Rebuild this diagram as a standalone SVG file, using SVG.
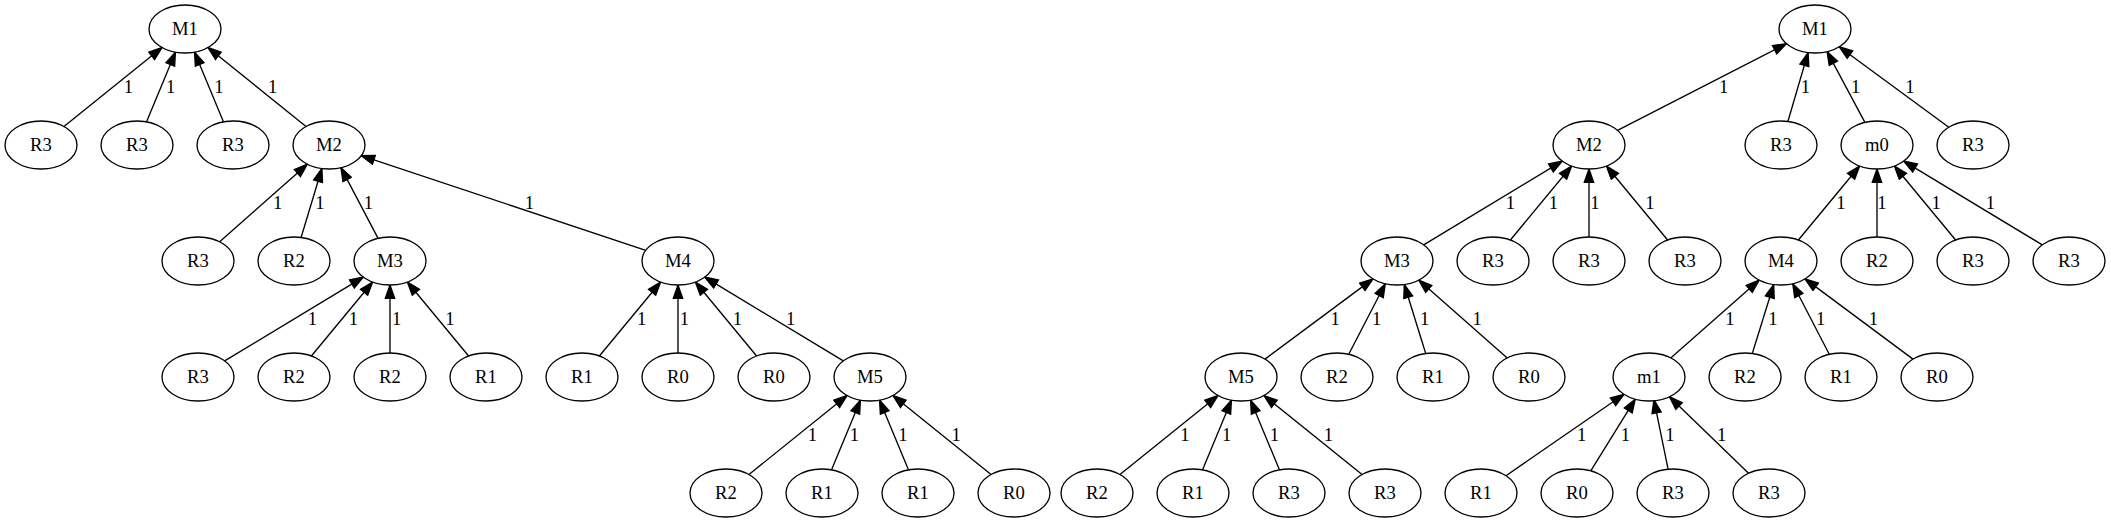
<svg xmlns="http://www.w3.org/2000/svg" width="2111" height="523" viewBox="0 0 2111 523">
<defs>
<style>
.n ellipse{fill:#fff;stroke:#000;stroke-width:1.33}
.n text,.lbl{font-family:"Liberation Serif","Times New Roman",serif;font-size:18.67px;fill:#000}
.n text{text-anchor:middle}
.lbl{text-anchor:middle}
.e{stroke:#000;stroke-width:1.33;fill:none;marker-end:url(#ah)}
</style>
<marker id="ah" markerUnits="userSpaceOnUse" viewBox="-1 -1 15.33 11.33" refX="13.33" refY="4.67" markerWidth="15.33" markerHeight="11.33" orient="auto">
<path d="M0,0 L13.33,4.67 L0,9.33 Z" fill="#000" stroke="#000" stroke-width="1.33"/>
</marker>
</defs>
<rect width="2111" height="523" fill="#fff"/>
<g id="connectors">
<line class="e" x1="63.95" y1="126.51" x2="162.05" y2="47.49"/>
<line class="e" x1="146.57" y1="121.86" x2="175.43" y2="52.14"/>
<line class="e" x1="223.43" y1="121.86" x2="194.57" y2="52.14"/>
<line class="e" x1="306.05" y1="126.51" x2="207.95" y2="47.49"/>
<line class="e" x1="219.65" y1="241.83" x2="307.35" y2="164.17"/>
<line class="e" x1="301.10" y1="237.47" x2="321.90" y2="168.53"/>
<line class="e" x1="378.09" y1="238.35" x2="340.91" y2="167.65"/>
<line class="e" x1="645.78" y1="250.29" x2="361.22" y2="155.71"/>
<line class="e" x1="224.68" y1="360.88" x2="363.32" y2="277.12"/>
<line class="e" x1="311.39" y1="355.99" x2="372.61" y2="282.01"/>
<line class="e" x1="390" y1="353" x2="390" y2="285"/>
<line class="e" x1="468.61" y1="355.99" x2="407.39" y2="282.01"/>
<line class="e" x1="599.39" y1="355.99" x2="660.61" y2="282.01"/>
<line class="e" x1="678" y1="353" x2="678" y2="285"/>
<line class="e" x1="756.61" y1="355.99" x2="695.39" y2="282.01"/>
<line class="e" x1="843.32" y1="360.88" x2="704.68" y2="277.12"/>
<line class="e" x1="748.95" y1="474.51" x2="847.05" y2="395.49"/>
<line class="e" x1="831.57" y1="469.86" x2="860.43" y2="400.14"/>
<line class="e" x1="908.43" y1="469.86" x2="879.57" y2="400.14"/>
<line class="e" x1="991.05" y1="474.51" x2="892.95" y2="395.49"/>
<line class="e" x1="1617.53" y1="130.36" x2="1786.47" y2="43.64"/>
<line class="e" x1="1787.90" y1="121.44" x2="1808.10" y2="52.56"/>
<line class="e" x1="1864.92" y1="122.39" x2="1827.08" y2="51.61"/>
<line class="e" x1="1948.80" y1="127.23" x2="1839.20" y2="46.77"/>
<line class="e" x1="1423.68" y1="244.88" x2="1562.32" y2="161.12"/>
<line class="e" x1="1510.39" y1="239.99" x2="1571.61" y2="166.01"/>
<line class="e" x1="1589" y1="237" x2="1589" y2="169"/>
<line class="e" x1="1667.61" y1="239.99" x2="1606.39" y2="166.01"/>
<line class="e" x1="1798.39" y1="239.99" x2="1859.61" y2="166.01"/>
<line class="e" x1="1877" y1="237" x2="1877" y2="169"/>
<line class="e" x1="1955.61" y1="239.99" x2="1894.39" y2="166.01"/>
<line class="e" x1="2042.32" y1="244.88" x2="1903.68" y2="161.12"/>
<line class="e" x1="1265.03" y1="359.13" x2="1372.97" y2="278.87"/>
<line class="e" x1="1348.74" y1="354.31" x2="1385.26" y2="283.69"/>
<line class="e" x1="1425.71" y1="353.50" x2="1404.29" y2="284.50"/>
<line class="e" x1="1507.24" y1="357.88" x2="1418.76" y2="280.12"/>
<line class="e" x1="1670.76" y1="357.88" x2="1759.24" y2="280.12"/>
<line class="e" x1="1752.29" y1="353.50" x2="1773.71" y2="284.50"/>
<line class="e" x1="1829.26" y1="354.31" x2="1792.74" y2="283.69"/>
<line class="e" x1="1912.97" y1="359.13" x2="1805.03" y2="278.87"/>
<line class="e" x1="1119.95" y1="474.51" x2="1218.05" y2="395.49"/>
<line class="e" x1="1202.57" y1="469.86" x2="1231.43" y2="400.14"/>
<line class="e" x1="1279.43" y1="469.86" x2="1250.57" y2="400.14"/>
<line class="e" x1="1362.05" y1="474.51" x2="1263.95" y2="395.49"/>
<line class="e" x1="1506.01" y1="475.73" x2="1623.99" y2="394.27"/>
<line class="e" x1="1590.76" y1="470.82" x2="1635.24" y2="399.18"/>
<line class="e" x1="1668.08" y1="469.22" x2="1653.92" y2="399.78"/>
<line class="e" x1="1748.56" y1="473.24" x2="1669.44" y2="396.76"/>
<text class="lbl" x="128.3" y="92.5">1</text>
<text class="lbl" x="170.7" y="92.5">1</text>
<text class="lbl" x="219" y="92.5">1</text>
<text class="lbl" x="272.7" y="92.5">1</text>
<text class="lbl" x="277.7" y="208.5">1</text>
<text class="lbl" x="320" y="208.5">1</text>
<text class="lbl" x="368.3" y="208.5">1</text>
<text class="lbl" x="529.3" y="208.5">1</text>
<text class="lbl" x="312.3" y="324.5">1</text>
<text class="lbl" x="353.3" y="324.5">1</text>
<text class="lbl" x="396.7" y="324.5">1</text>
<text class="lbl" x="450" y="324.5">1</text>
<text class="lbl" x="641.7" y="324.5">1</text>
<text class="lbl" x="684.3" y="324.5">1</text>
<text class="lbl" x="737.3" y="324.5">1</text>
<text class="lbl" x="790.7" y="324.5">1</text>
<text class="lbl" x="812.4" y="440.5">1</text>
<text class="lbl" x="854.4" y="440.5">1</text>
<text class="lbl" x="902.8" y="440.5">1</text>
<text class="lbl" x="956.2" y="440.5">1</text>
<text class="lbl" x="1723.6" y="92.5">1</text>
<text class="lbl" x="1805.4" y="92.5">1</text>
<text class="lbl" x="1855.6" y="92.5">1</text>
<text class="lbl" x="1910" y="92.5">1</text>
<text class="lbl" x="1510.4" y="208.5">1</text>
<text class="lbl" x="1553.3" y="208.5">1</text>
<text class="lbl" x="1594.9" y="208.5">1</text>
<text class="lbl" x="1649.9" y="208.5">1</text>
<text class="lbl" x="1840.9" y="208.5">1</text>
<text class="lbl" x="1881.8" y="208.5">1</text>
<text class="lbl" x="1936.1" y="208.5">1</text>
<text class="lbl" x="1990.4" y="208.5">1</text>
<text class="lbl" x="1335.1" y="324.5">1</text>
<text class="lbl" x="1376.7" y="324.5">1</text>
<text class="lbl" x="1424.6" y="324.5">1</text>
<text class="lbl" x="1477.2" y="324.5">1</text>
<text class="lbl" x="1729.9" y="324.5">1</text>
<text class="lbl" x="1772.9" y="324.5">1</text>
<text class="lbl" x="1820.7" y="324.5">1</text>
<text class="lbl" x="1873.3" y="324.5">1</text>
<text class="lbl" x="1185" y="440.5">1</text>
<text class="lbl" x="1226.7" y="440.5">1</text>
<text class="lbl" x="1274.3" y="440.5">1</text>
<text class="lbl" x="1328.3" y="440.5">1</text>
<text class="lbl" x="1581.7" y="440.5">1</text>
<text class="lbl" x="1625.4" y="440.5">1</text>
<text class="lbl" x="1669.8" y="440.5">1</text>
<text class="lbl" x="1721.7" y="440.5">1</text>
</g>
<g id="a_M1" class="n"><ellipse cx="185" cy="29" rx="36" ry="24"/><text x="185" y="34.6">M1</text></g>
<g id="a_R3_1" class="n"><ellipse cx="41" cy="145" rx="36" ry="24"/><text x="41" y="150.6">R3</text></g>
<g id="a_R3_2" class="n"><ellipse cx="137" cy="145" rx="36" ry="24"/><text x="137" y="150.6">R3</text></g>
<g id="a_R3_3" class="n"><ellipse cx="233" cy="145" rx="36" ry="24"/><text x="233" y="150.6">R3</text></g>
<g id="a_M2" class="n"><ellipse cx="329" cy="145" rx="36" ry="24"/><text x="329" y="150.6">M2</text></g>
<g id="a_R3_4" class="n"><ellipse cx="198" cy="261" rx="36" ry="24"/><text x="198" y="266.6">R3</text></g>
<g id="a_R2_1" class="n"><ellipse cx="294" cy="261" rx="36" ry="24"/><text x="294" y="266.6">R2</text></g>
<g id="a_M3" class="n"><ellipse cx="390" cy="261" rx="36" ry="24"/><text x="390" y="266.6">M3</text></g>
<g id="a_M4" class="n"><ellipse cx="678" cy="261" rx="36" ry="24"/><text x="678" y="266.6">M4</text></g>
<g id="a_R3_5" class="n"><ellipse cx="198" cy="377" rx="36" ry="24"/><text x="198" y="382.6">R3</text></g>
<g id="a_R2_2" class="n"><ellipse cx="294" cy="377" rx="36" ry="24"/><text x="294" y="382.6">R2</text></g>
<g id="a_R2_3" class="n"><ellipse cx="390" cy="377" rx="36" ry="24"/><text x="390" y="382.6">R2</text></g>
<g id="a_R1_1" class="n"><ellipse cx="486" cy="377" rx="36" ry="24"/><text x="486" y="382.6">R1</text></g>
<g id="a_R1_2" class="n"><ellipse cx="582" cy="377" rx="36" ry="24"/><text x="582" y="382.6">R1</text></g>
<g id="a_R0_1" class="n"><ellipse cx="678" cy="377" rx="36" ry="24"/><text x="678" y="382.6">R0</text></g>
<g id="a_R0_2" class="n"><ellipse cx="774" cy="377" rx="36" ry="24"/><text x="774" y="382.6">R0</text></g>
<g id="a_M5" class="n"><ellipse cx="870" cy="377" rx="36" ry="24"/><text x="870" y="382.6">M5</text></g>
<g id="a_R2_4" class="n"><ellipse cx="726" cy="493" rx="36" ry="24"/><text x="726" y="498.6">R2</text></g>
<g id="a_R1_3" class="n"><ellipse cx="822" cy="493" rx="36" ry="24"/><text x="822" y="498.6">R1</text></g>
<g id="a_R1_4" class="n"><ellipse cx="918" cy="493" rx="36" ry="24"/><text x="918" y="498.6">R1</text></g>
<g id="a_R0_3" class="n"><ellipse cx="1014" cy="493" rx="36" ry="24"/><text x="1014" y="498.6">R0</text></g>
<g id="b_M1" class="n"><ellipse cx="1815" cy="29" rx="36" ry="24"/><text x="1815" y="34.6">M1</text></g>
<g id="b_M2" class="n"><ellipse cx="1589" cy="145" rx="36" ry="24"/><text x="1589" y="150.6">M2</text></g>
<g id="b_R3_1" class="n"><ellipse cx="1781" cy="145" rx="36" ry="24"/><text x="1781" y="150.6">R3</text></g>
<g id="b_m0" class="n"><ellipse cx="1877" cy="145" rx="36" ry="24"/><text x="1877" y="150.6">m0</text></g>
<g id="b_R3_2" class="n"><ellipse cx="1973" cy="145" rx="36" ry="24"/><text x="1973" y="150.6">R3</text></g>
<g id="b_M3" class="n"><ellipse cx="1397" cy="261" rx="36" ry="24"/><text x="1397" y="266.6">M3</text></g>
<g id="b_R3_3" class="n"><ellipse cx="1493" cy="261" rx="36" ry="24"/><text x="1493" y="266.6">R3</text></g>
<g id="b_R3_4" class="n"><ellipse cx="1589" cy="261" rx="36" ry="24"/><text x="1589" y="266.6">R3</text></g>
<g id="b_R3_5" class="n"><ellipse cx="1685" cy="261" rx="36" ry="24"/><text x="1685" y="266.6">R3</text></g>
<g id="b_M4" class="n"><ellipse cx="1781" cy="261" rx="36" ry="24"/><text x="1781" y="266.6">M4</text></g>
<g id="b_R2_1" class="n"><ellipse cx="1877" cy="261" rx="36" ry="24"/><text x="1877" y="266.6">R2</text></g>
<g id="b_R3_6" class="n"><ellipse cx="1973" cy="261" rx="36" ry="24"/><text x="1973" y="266.6">R3</text></g>
<g id="b_R3_7" class="n"><ellipse cx="2069" cy="261" rx="36" ry="24"/><text x="2069" y="266.6">R3</text></g>
<g id="b_M5" class="n"><ellipse cx="1241" cy="377" rx="36" ry="24"/><text x="1241" y="382.6">M5</text></g>
<g id="b_R2_2" class="n"><ellipse cx="1337" cy="377" rx="36" ry="24"/><text x="1337" y="382.6">R2</text></g>
<g id="b_R1_1" class="n"><ellipse cx="1433" cy="377" rx="36" ry="24"/><text x="1433" y="382.6">R1</text></g>
<g id="b_R0_1" class="n"><ellipse cx="1529" cy="377" rx="36" ry="24"/><text x="1529" y="382.6">R0</text></g>
<g id="b_m1" class="n"><ellipse cx="1649" cy="377" rx="36" ry="24"/><text x="1649" y="382.6">m1</text></g>
<g id="b_R2_3" class="n"><ellipse cx="1745" cy="377" rx="36" ry="24"/><text x="1745" y="382.6">R2</text></g>
<g id="b_R1_2" class="n"><ellipse cx="1841" cy="377" rx="36" ry="24"/><text x="1841" y="382.6">R1</text></g>
<g id="b_R0_2" class="n"><ellipse cx="1937" cy="377" rx="36" ry="24"/><text x="1937" y="382.6">R0</text></g>
<g id="b_R2_4" class="n"><ellipse cx="1097" cy="493" rx="36" ry="24"/><text x="1097" y="498.6">R2</text></g>
<g id="b_R1_3" class="n"><ellipse cx="1193" cy="493" rx="36" ry="24"/><text x="1193" y="498.6">R1</text></g>
<g id="b_R3_8" class="n"><ellipse cx="1289" cy="493" rx="36" ry="24"/><text x="1289" y="498.6">R3</text></g>
<g id="b_R3_9" class="n"><ellipse cx="1385" cy="493" rx="36" ry="24"/><text x="1385" y="498.6">R3</text></g>
<g id="b_R1_4" class="n"><ellipse cx="1481" cy="493" rx="36" ry="24"/><text x="1481" y="498.6">R1</text></g>
<g id="b_R0_3" class="n"><ellipse cx="1577" cy="493" rx="36" ry="24"/><text x="1577" y="498.6">R0</text></g>
<g id="b_R3_10" class="n"><ellipse cx="1673" cy="493" rx="36" ry="24"/><text x="1673" y="498.6">R3</text></g>
<g id="b_R3_11" class="n"><ellipse cx="1769" cy="493" rx="36" ry="24"/><text x="1769" y="498.6">R3</text></g>
</svg>
